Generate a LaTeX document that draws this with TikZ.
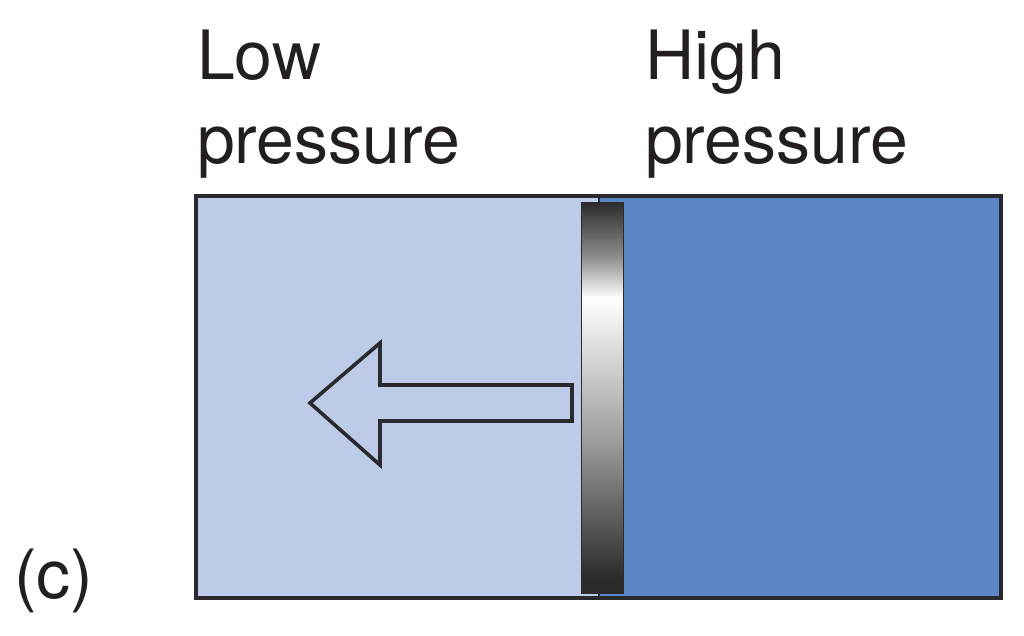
\documentclass[tikz,border=0pt]{standalone}
\usepackage{fontspec}
\setmainfont{TeX Gyre Heros}
\definecolor{lowfill}{HTML}{BDCBE8}
\definecolor{highfill}{HTML}{5B85C5}
\definecolor{ink}{HTML}{2A2A2E}
\definecolor{txt}{HTML}{231F20}
\definecolor{pdk}{HTML}{2B2B2B}
\pgfdeclareverticalshading{piston}{100bp}{color(0bp)=(pdk); color(26.9bp)=(pdk); color(45bp)=(gray!75); color(62.7bp)=(white); color(68bp)=(gray!90); color(75bp)=(pdk); color(100bp)=(pdk)}
\tikzset{
  label/.style={inner sep=0pt, outer sep=0pt, align=left, text=txt, font=\fontsize{68}{84}\selectfont},
  outline/.style={draw=ink, line width=3.2pt},
}
\begin{document}
\begin{tikzpicture}[x=1pt,y=-1pt]
\useasboundingbox (0,0) rectangle (1024,635);
% chambers
\fill[lowfill] (196,196) rectangle (599,598);
\fill[highfill] (599,196) rectangle (1001,598);
\draw[draw=ink, line width=2pt] (599,196) -- (599,598);
\draw[outline] (196,196) rectangle (1001,598);
% piston
\path[shading=piston, draw=pdk, line width=1pt] (581,202) rectangle (623,593);
% arrow
\draw[outline, line width=3.6pt, fill=lowfill, line join=miter]
  (310,403) -- (380,343) -- (380,385) -- (572,385) -- (572,421) -- (380,421) -- (380,465) -- cycle;
% labels
\node[label, anchor=base west] (low) at (197,163) {Low\\pressure};
\node[label, anchor=base west] (high) at (645,163) {High\\pressure};
\node[label, anchor=base west] (c) at (14,598) {(c)};
\end{tikzpicture}
\end{document}
